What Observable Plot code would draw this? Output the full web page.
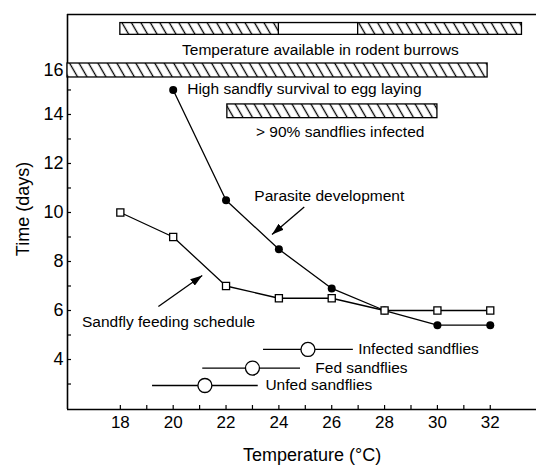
<!DOCTYPE html>
<html><head><meta charset="utf-8">
<script src="https://cdn.jsdelivr.net/npm/d3@7"></script>
<script src="https://cdn.jsdelivr.net/npm/@observablehq/plot@0.6"></script>
<style>
body{margin:0;background:#fff}
svg{font-family:"Liberation Sans",Arial,Helvetica,sans-serif}
</style>
</head><body><div id="chart"></div>
<script>
// Sandfly feeding schedule (open squares)
const feedTemps = [18, 20, 22, 24, 26, 28, 30, 32];
const feedDays = [10, 9, 7, 6.5, 6.5, 6, 6, 6];
// Parasite development (filled circles)
const parTemps = [20, 22, 24, 26, 28, 30, 32];
const parDays = [15, 10.5, 8.5, 6.9, 6, 5.4, 5.4];

// Hatched range bars
const barNames = ["rodent burrows", "sandfly survival", "sandflies infected"];
const barFrom = [18, 16, 22.05];
const barTo = [33.2, 31.9, 30];
const barLow = [17.25, 15.51, 13.85];
const barHigh = [17.73, 16.08, 14.41];
// open (white) section of the burrow bar
const gapFrom = [24];
const gapTo = [27];

// Annotations
const noteText = ["Temperature available in rodent burrows", "High sandfly survival to egg laying", "> 90% sandflies infected", "Parasite development", "Sandfly feeding schedule"];
const noteT = [25.57, 20.53, 26.32, 23.07, 16.55];
const noteD = [16.61, 15.02, 13.28, 10.69, 5.52];
const noteAnchor = ["middle", "start", "middle", "start", "start"];

// Arrows
const arrowT1 = [24.96, 19.44];
const arrowD1 = [10.22, 6.16];
const arrowT2 = [23.74, 21.1];
const arrowD2 = [9.10, 7.43];

// Sandfly stage markers
const stageNames = ["Infected sandflies", "Fed sandflies", "Unfed sandflies"];
const stageLow = [23.4, 21.1, 19.2];
const stageHigh = [26.8, 24.8, 23.2];
const stageMid = [25.1, 23.0, 21.2];
const stageLevel = [4.41, 3.65, 2.94];
const stageLabelT = [27.0, 25.38, 23.49];

// Axes
const xDomain = [16, 33.75];
const yDomain = [1.96, 18.08];
const xTickLabels = [18, 20, 22, 24, 26, 28, 30, 32];
const xTickMarks = d3.range(18, 33, 1);
const yTickLabels = [4, 6, 8, 10, 12, 14];
const yTopLabel = [16];
const yTickMarks = d3.range(3, 16, 1);

const feed = feedTemps.map((t, i) => ({t, d: feedDays[i]}));
const par = parTemps.map((t, i) => ({t, d: parDays[i]}));
const bars = barNames.map((n, i) => ({n, x1: barFrom[i], x2: barTo[i], y1: barLow[i], y2: barHigh[i]}));
const gaps = gapFrom.map((g, i) => ({x1: g, x2: gapTo[i], y1: barLow[0], y2: barHigh[0]}));
const notes = noteText.map((s, i) => ({s, t: noteT[i], d: noteD[i], a: noteAnchor[i]}));
const arrows = arrowT1.map((t, i) => ({x1: t, y1: arrowD1[i], x2: arrowT2[i], y2: arrowD2[i]}));
const stages = stageNames.map((s, i) => ({s, lo: stageLow[i], hi: stageHigh[i], mid: stageMid[i], y: stageLevel[i], lt: stageLabelT[i]}));

const sw = 1.3;
const chart = Plot.plot({
  width: 536, height: 465,
  marginLeft: 67, marginRight: 0, marginTop: 14, marginBottom: 56,
  style: {background: "white", color: "black", fontFamily: "'Liberation Sans', Arial, sans-serif"},
  x: {domain: xDomain, axis: null},
  y: {domain: yDomain, axis: null},
  marks: [
    // frame lines
    Plot.ruleY([yDomain[0]], {stroke: "black", strokeWidth: 1.6}),
    Plot.ruleY([yDomain[1]], {stroke: "black", strokeWidth: 1.4}),
    Plot.ruleX([xDomain[0]], {stroke: "black", strokeWidth: 1.6}),
    // ticks (inward)
    Plot.axisX({ticks: xTickMarks, tickSize: -4, text: null, strokeWidth: 1.2}),
    Plot.axisX({ticks: xTickLabels, tickSize: 0, tickPadding: 6, fontSize: 17, tickFormat: d => d, label: null}),
    Plot.axisY({ticks: yTickMarks, tickSize: -4, text: null, strokeWidth: 1.2}),
    Plot.axisY({ticks: yTickLabels, tickSize: 0, tickPadding: 4, fontSize: 18, tickFormat: d => d, label: null}),
    Plot.axisY({ticks: yTopLabel, tickSize: 0, tickPadding: 4, dy: 5, fontSize: 18, tickFormat: d => d, label: null}),
    // axis titles
    Plot.text(["Temperature (°C)"], {frameAnchor: "bottom", lineAnchor: "middle", dy: 46, dx: 10, fontSize: 18, fill: "black"}),
    Plot.text(["Time (days)"], {frameAnchor: "left", textAnchor: "middle", lineAnchor: "middle", dx: -44, dy: -3, rotate: -90, fontSize: 18, fill: "black"}),
    // hatched bars
    Plot.rect(bars, {x1: "x1", x2: "x2", y1: "y1", y2: "y2", fill: "url(#hatch)", stroke: "black", strokeWidth: sw}),
    Plot.rect(gaps, {x1: "x1", x2: "x2", y1: "y1", y2: "y2", fill: "white", stroke: "black", strokeWidth: sw}),
    // series
    Plot.line(par, {x: "t", y: "d", stroke: "black", strokeWidth: sw}),
    Plot.line(feed, {x: "t", y: "d", stroke: "black", strokeWidth: sw}),
    Plot.dot(par, {x: "t", y: "d", r: 4, fill: "black", stroke: "none"}),
    Plot.dot(feed, {x: "t", y: "d", symbol: "square", r: 4, fill: "white", stroke: "black", strokeWidth: sw}),
    // arrows
    Plot.link(arrows, {x1: "x1", y1: "y1", x2: "x2", y2: "y2", stroke: "black", strokeWidth: sw, markerEnd: "arrow"}),
    // annotations
    Plot.text(notes.filter(n => n.a === "middle"), {x: "t", y: "d", text: "s", textAnchor: "middle", fontSize: 15.5}),
    Plot.text(notes.filter(n => n.a === "start"), {x: "t", y: "d", text: "s", textAnchor: "start", fontSize: 15.5}),
    // stage markers
    Plot.link(stages, {x1: "lo", x2: "hi", y1: "y", y2: "y", stroke: "black", strokeWidth: sw}),
    Plot.dot(stages, {x: "mid", y: "y", r: 7, fill: "white", stroke: "black", strokeWidth: sw}),
    Plot.text(stages, {x: "lt", y: "y", text: "s", textAnchor: "start", fontSize: 15.5})
  ]
});

const svg = d3.select(chart);
const defs = svg.insert("defs", ":first-child");
const pat = defs.append("pattern").attr("id", "hatch").attr("patternUnits", "userSpaceOnUse")
  .attr("width", 8.2).attr("height", 8.2).attr("patternTransform", "rotate(-30)");
pat.append("rect").attr("width", 8.2).attr("height", 8.2).attr("fill", "white");
pat.append("line").attr("x1", 4.1).attr("y1", -1).attr("x2", 4.1).attr("y2", 9.2).attr("stroke", "black").attr("stroke-width", 1.3);
// turn Plot's open arrow markers into filled arrowheads
svg.selectAll("marker").each(function() {
  const m = d3.select(this);
  m.attr("viewBox", "0 0 12 8").attr("refX", 12).attr("refY", 4)
   .attr("markerWidth", 12).attr("markerHeight", 8).attr("markerUnits", "userSpaceOnUse").attr("orient", "auto");
  m.selectAll("*").remove();
  m.append("path").attr("d", "M0,0L12,4L0,8Z").attr("fill", "black").attr("stroke", "none");
});
document.getElementById("chart").appendChild(chart);
</script>
</body></html>
